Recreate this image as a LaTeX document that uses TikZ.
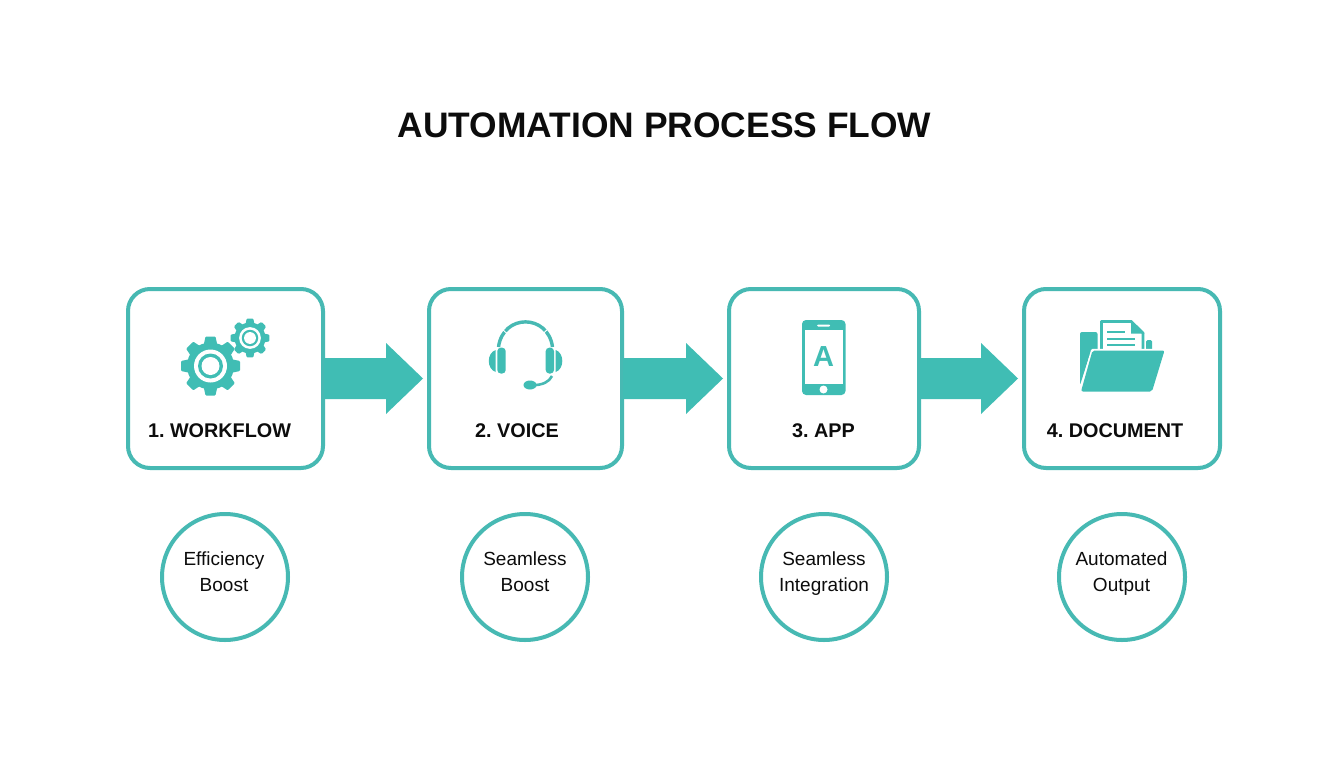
\documentclass[tikz,border=0pt]{standalone}
\usepackage{fontspec}
\setmainfont{Liberation Sans}
\usetikzlibrary{calc}
\definecolor{tealc}{HTML}{40BDB4}
\definecolor{strokec}{HTML}{47B9B3}
\definecolor{inkc}{HTML}{0C0C0C}
\tikzset{
  stepbox/.style={draw=strokec,line width=4pt,rounded corners=22pt,fill=white,minimum height=179pt,inner sep=0pt},
  benefit/.style={circle,draw=strokec,line width=4pt,fill=white,minimum size=126pt,inner sep=0pt},
  benefittext/.style={align=center,font=\fontsize{19}{26}\selectfont,text=inkc,inner sep=0pt},
  steplabel/.style={font=\frenchspacing\bfseries\fontsize{19.8}{24}\selectfont,text=inkc,inner sep=0pt},
  titletext/.style={font=\bfseries\fontsize{35.4}{40}\selectfont,text=inkc,inner sep=0pt}
}
\newcommand{\blockarrow}[2]{%
  \coordinate (t) at ($(#2.west)+(-4,0)$);
  \fill[tealc] ($(#1.east)+(-1,-20.5)$) -- ($(t)+(-37,-20.5)$) -- ($(t)+(-37,-35.5)$) -- (t)
    -- ($(t)+(-37,35.5)$) -- ($(t)+(-37,20.5)$) -- ($(#1.east)+(-1,20.5)$) -- cycle;
}
\newcommand{\mygear}[3]{% cx cy scale (outer radius 30 at scale 1)
  \begin{scope}[shift={(#1,#2)},scale=#3]
    \foreach \a in {0,45,...,315}{
      \fill[tealc,rotate=\a,rounded corners=1pt] (-5,-29.5) -- (5,-29.5) -- (7,-20) -- (-7,-20) -- cycle;
    }
    \fill[tealc] (0,0) circle[radius=23.5];
    \fill[white] (0,0) circle[radius=16.5];
    \fill[tealc] (0,0) circle[radius=12.5];
    \fill[white] (0,0) circle[radius=9];
  \end{scope}
}
\newcommand{\strutline}{\vphantom{Ay}}
\begin{document}
\begin{tikzpicture}[x=1pt,y=-1pt]
\useasboundingbox (0,0) rectangle (1344,768);
\fill[white] (0,0) rectangle (1344,768);
\node[titletext] (title) at (664.5,125.5) {AUTOMATION PROCESS FLOW};

\node[stepbox,minimum width=195pt] (b1) at (225.5,378.5) {};
\node[stepbox,minimum width=193pt] (b2) at (525.5,378.5) {};
\node[stepbox,minimum width=190pt] (b3) at (824,378.5) {};
\node[stepbox,minimum width=196pt] (b4) at (1122,378.5) {};

\blockarrow{b1}{b2}
\blockarrow{b2}{b3}
\blockarrow{b3}{b4}

\node[steplabel] (l1) at (219.5,431) {1. WORKFLOW};
\node[steplabel] (l2) at (517,431) {2. VOICE};
\node[steplabel] (l3) at (823.5,431) {3. APP};
\node[steplabel] (l4) at (1115,431) {4. DOCUMENT};

\node[benefit] (c1) at (225,577) {};
\node[benefit] (c2) at (525,577) {};
\node[benefit] (c3) at (824,577) {};
\node[benefit] (c4) at (1122,577) {};
\node[benefittext] (t1) at (224,574) {\strutline Efficiency\\\strutline Boost};
\node[benefittext] (t2) at (525,574) {\strutline Seamless\\\strutline Boost};
\node[benefittext] (t3) at (824,574) {\strutline Seamless\\\strutline Integration};
\node[benefittext] (t4) at (1121.5,574) {\strutline Automated\\\strutline Output};

% gears
\mygear{210.5}{366}{1}
\mygear{250}{338}{0.66}

% headset
\draw[strokec,line width=3.4pt] (498.5,347) .. controls (503,313.5) and (548,313.5) .. (552.5,347);
\draw[white,line width=0.9pt] (502.4,329.4) -- (507.6,334);
\draw[white,line width=0.9pt] (547.6,329.4) -- (542.4,334);
\fill[tealc,rounded corners=3.5pt] (497.3,347.7) rectangle (505.7,373.5);
\fill[tealc,rounded corners=3.5pt] (545.7,347.7) rectangle (554,373.5);
\fill[tealc] (495.7,350) .. controls (486.5,353) and (486.5,369) .. (495.7,372) -- cycle;
\fill[tealc] (555.7,350) .. controls (564.5,353) and (564.5,369) .. (555.7,372) -- cycle;
\draw[strokec,line width=2.6pt] (552,376) .. controls (549,382) and (543,385) .. (532,385.3);
\fill[tealc] (530,385) ellipse[x radius=6.5,y radius=4.5];

% phone
\fill[tealc,rounded corners=4pt] (802,320) rectangle (845.5,395);
\fill[white] (805,329.5) rectangle (842.5,384);
\fill[white,rounded corners=1pt] (817,324.5) rectangle (830,326.5);
\fill[white] (823.5,389.5) circle[radius=4];
\node[inner sep=0pt,text=tealc,font=\bfseries\fontsize{29}{30}\selectfont] (pa) at (823.5,357) {A};

% folder
\fill[tealc,rounded corners=2pt] (1080,332) -- (1097.5,332) -- (1097.5,354) -- (1090,354) -- (1080,385) -- cycle;
\fill[tealc,rounded corners=1.5pt] (1146,340) rectangle (1152,352);
\draw[tealc,line width=2.8pt,fill=white,line join=round] (1101.4,321.4) -- (1131,321.4) -- (1143,333) -- (1143,354) -- (1101.4,354) -- cycle;
\fill[tealc] (1131,320) -- (1144.4,333.5) -- (1131,333.5) -- cycle;
\draw[tealc,line width=2pt] (1107,332.3) -- (1125,332.3);
\draw[tealc,line width=2pt] (1107,339) -- (1135,339);
\draw[tealc,line width=2pt] (1107,345) -- (1135,345);
\draw[white,line width=3.2pt,line join=round] (1092.5,350.5) -- (1164.5,350.5) -- (1152,391.5) -- (1081,391.5) -- cycle;
\fill[tealc,rounded corners=2pt] (1092.5,350.5) -- (1164.5,350.5) -- (1152,391.5) -- (1081,391.5) -- cycle;
\end{tikzpicture}
\end{document}
